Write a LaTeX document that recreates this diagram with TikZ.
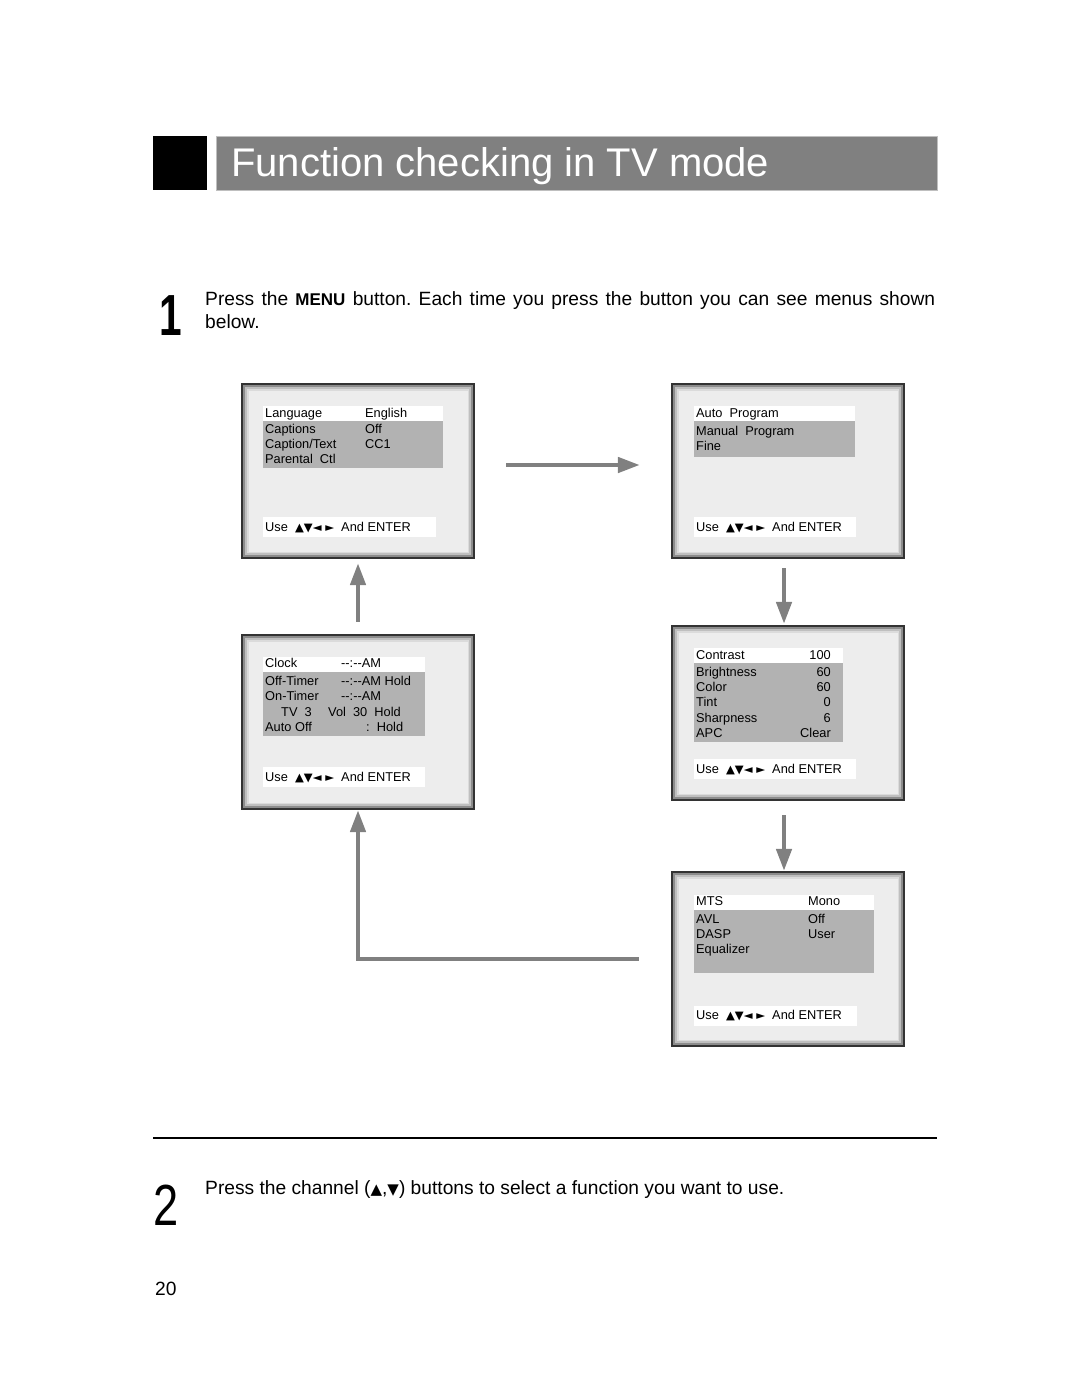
\documentclass[tikz,border=0pt]{standalone}
\usepackage{fontspec}
\setmainfont{Liberation Sans}
\newfontfamily\symfont{DejaVu Sans}
\usetikzlibrary{arrows.meta,calc}
\frenchspacing

\newcommand{\keys}{{\symfont\fontsize{11.5}{12}\selectfont ▲▼◄\ ►}}
\newcommand{\usekeys}{Use\ \ \keys\ \ And ENTER}
\newcommand{\clk}{-{}-:-{}-AM}

\tikzset{
  screen/.style={draw=black!80, line width=2.2pt, fill=black!7, minimum width=232pt, minimum height=174pt, inner sep=0pt},
  hilite/.style={fill=white},
  band/.style={fill=black!30},
  mtext/.style={anchor=base west, inner sep=0pt, font=\fontsize{12.8}{15}\selectfont},
  mval/.style={anchor=base east, inner sep=0pt, font=\fontsize{12.8}{15}\selectfont},
  flow/.style={draw=black!50, line width=4.5pt, -{Triangle[length=22pt,width=15pt]}},
  body/.style={anchor=base west, inner sep=0pt, font=\fontsize{19.2}{22}\selectfont},
  bignum/.style={anchor=base west, inner sep=0pt, font=\fontsize{58}{58}\selectfont},
}

\begin{document}
\begin{tikzpicture}[x=1pt, y=-1pt]
\useasboundingbox (0,0) rectangle (1080,1397);

% title bar
\fill[black] (153,136) rectangle (207,190);
\filldraw[fill=black!50, draw=black!25, line width=1pt] (216,136) rectangle (937,190);
\node[anchor=base west, inner sep=0pt, text=white, font=\fontsize{40}{40}\selectfont] (title) at (231,176) {Function checking in TV mode};

% step 1
\node[bignum] (n1) at (159,335) {\scalebox{0.7}[1]{\bfseries 1}};
\node[body] (s1a) at (205,305) {\makebox[730pt][s]{Press the {\bfseries\fontsize{17}{20}\selectfont MENU} button. Each time you press the button you can see menus shown}};
\node[body] (s1b) at (205,328) {below.};

% menu screens
\node[screen] (mA) at (358,471) {};
\node[screen] (mB) at (788,471) {};
\node[screen] (mC) at (358,722) {};
\node[screen] (mD) at (788,713) {};
\node[screen] (mE) at (788,959) {};
\foreach \b in {mA,mB,mC,mD,mE} {
  \draw[black!45, line width=2pt] ($(\b.south west)+(3.5,-3.5)$) rectangle ($(\b.north east)+(-3.5,3.5)$);
  \draw[black!25, line width=2pt] ($(\b.south west)+(5.5,-5.5)$) rectangle ($(\b.north east)+(-5.5,5.5)$);
  \draw[black!14, line width=1.2pt] ($(\b.south west)+(7,-7)$) rectangle ($(\b.north east)+(-7,7)$);
}

% screen A
\fill[hilite] (263,406) rectangle (443,421);
\fill[band] (263,421) rectangle (443,468);
\fill[hilite] (263,517) rectangle (436,537);
\node[mtext] (a1) at (265,417) {Language};
\node[mtext] (a1v) at (365,417) {English};
\node[mtext] (a2) at (265,433) {Captions};
\node[mtext] (a2v) at (365,433) {Off};
\node[mtext] (a3) at (265,448) {Caption/Text};
\node[mtext] (a3v) at (365,448) {CC1};
\node[mtext] (a4) at (265,463) {Parental\ \ Ctl};
\node[mtext] (au) at (265,531) {\usekeys};

% screen B
\fill[hilite] (694,406) rectangle (855,421);
\fill[band] (694,421) rectangle (855,457);
\fill[hilite] (694,517) rectangle (856,537);
\node[mtext] (b1) at (696,417) {Auto\ \ Program};
\node[mtext] (b2) at (696,435) {Manual\ \ Program};
\node[mtext] (b3) at (696,450) {Fine};
\node[mtext] (bu) at (696,531) {\usekeys};

% screen C
\fill[hilite] (263,657) rectangle (425,672);
\fill[band] (263,672) rectangle (425,736);
\fill[hilite] (263,767) rectangle (425,787);
\node[mtext] (c1) at (265,667) {Clock};
\node[mtext] (c1v) at (341,667) {\clk};
\node[mtext] (c2) at (265,685) {Off-Timer};
\node[mtext] (c2v) at (341,685) {\clk\ Hold};
\node[mtext] (c3) at (265,700) {On-Timer};
\node[mtext] (c3v) at (341,700) {\clk};
\node[mtext] (c4) at (281,716) {TV\ \ 3};
\node[mtext] (c4v) at (328,716) {Vol\ \ 30\ \ Hold};
\node[mtext] (c5) at (265,731) {Auto Off};
\node[mtext] (c5v) at (366,731) {:\ \ Hold};
\node[mtext] (cu) at (265,781) {\usekeys};

% screen D
\fill[hilite] (694,648) rectangle (843,663);
\fill[band] (694,663) rectangle (843,742);
\fill[hilite] (694,759) rectangle (856,779);
\foreach \t/\v [count=\i] in {Contrast/100,Brightness/60,Color/60,Tint/0,Sharpness/6,APC/Clear} {
  \pgfmathsetmacro{\yy}{ifthenelse(\i==1,659,661+15.3*(\i-1))}
  \node[mtext] (d\i) at (696,\yy) {\t};
  \node[mval] (d\i v) at (831,\yy) {\v};
}
\node[mtext] (du) at (696,773) {\usekeys};

% screen E
\fill[hilite] (694,895) rectangle (874,910);
\fill[band] (694,910) rectangle (874,973);
\fill[hilite] (694,1006) rectangle (857,1026);
\node[mtext] (e1) at (696,905) {MTS};
\node[mtext] (e1v) at (808,905) {Mono};
\node[mtext] (e2) at (696,923) {AVL};
\node[mtext] (e2v) at (808,923) {Off};
\node[mtext] (e3) at (696,938) {DASP};
\node[mtext] (e3v) at (808,938) {User};
\node[mtext] (e4) at (696,953) {Equalizer};
\node[mtext] (eu) at (696,1019) {\usekeys};

% arrows between screens
\draw[flow, shorten <=31pt, shorten >=31pt] ([yshift=6pt]mA.east) -- ([yshift=6pt]mB.west);
\draw[flow, shorten <=9pt, shorten >=1pt] ([xshift=-4pt]mB.south) -- ([xshift=-4pt]mD.north);
\draw[flow, shorten <=14pt, shorten >=0pt] ([xshift=-4pt]mD.south) -- ([xshift=-4pt]mE.north);
\draw[flow, shorten <=32pt] (mE.west) -| (mC.south);
\draw[flow, shorten <=12pt, shorten >=4pt] (mC.north) -- (mA.south);

% rule
\draw[black, line width=1.6pt] (153,1138) -- (937,1138);

% step 2
\node[bignum] (n2) at (153,1225) {\scalebox{0.78}[1]{2}};
\node[body] (s2) at (205,1194) {Press the channel ({\symfont\fontsize{15}{16}\selectfont ▲},{\symfont\fontsize{15}{16}\selectfont ▼}) buttons to select a function you want to use.};

% page number
\node[body] (pg) at (155,1295) {20};
\end{tikzpicture}
\end{document}
